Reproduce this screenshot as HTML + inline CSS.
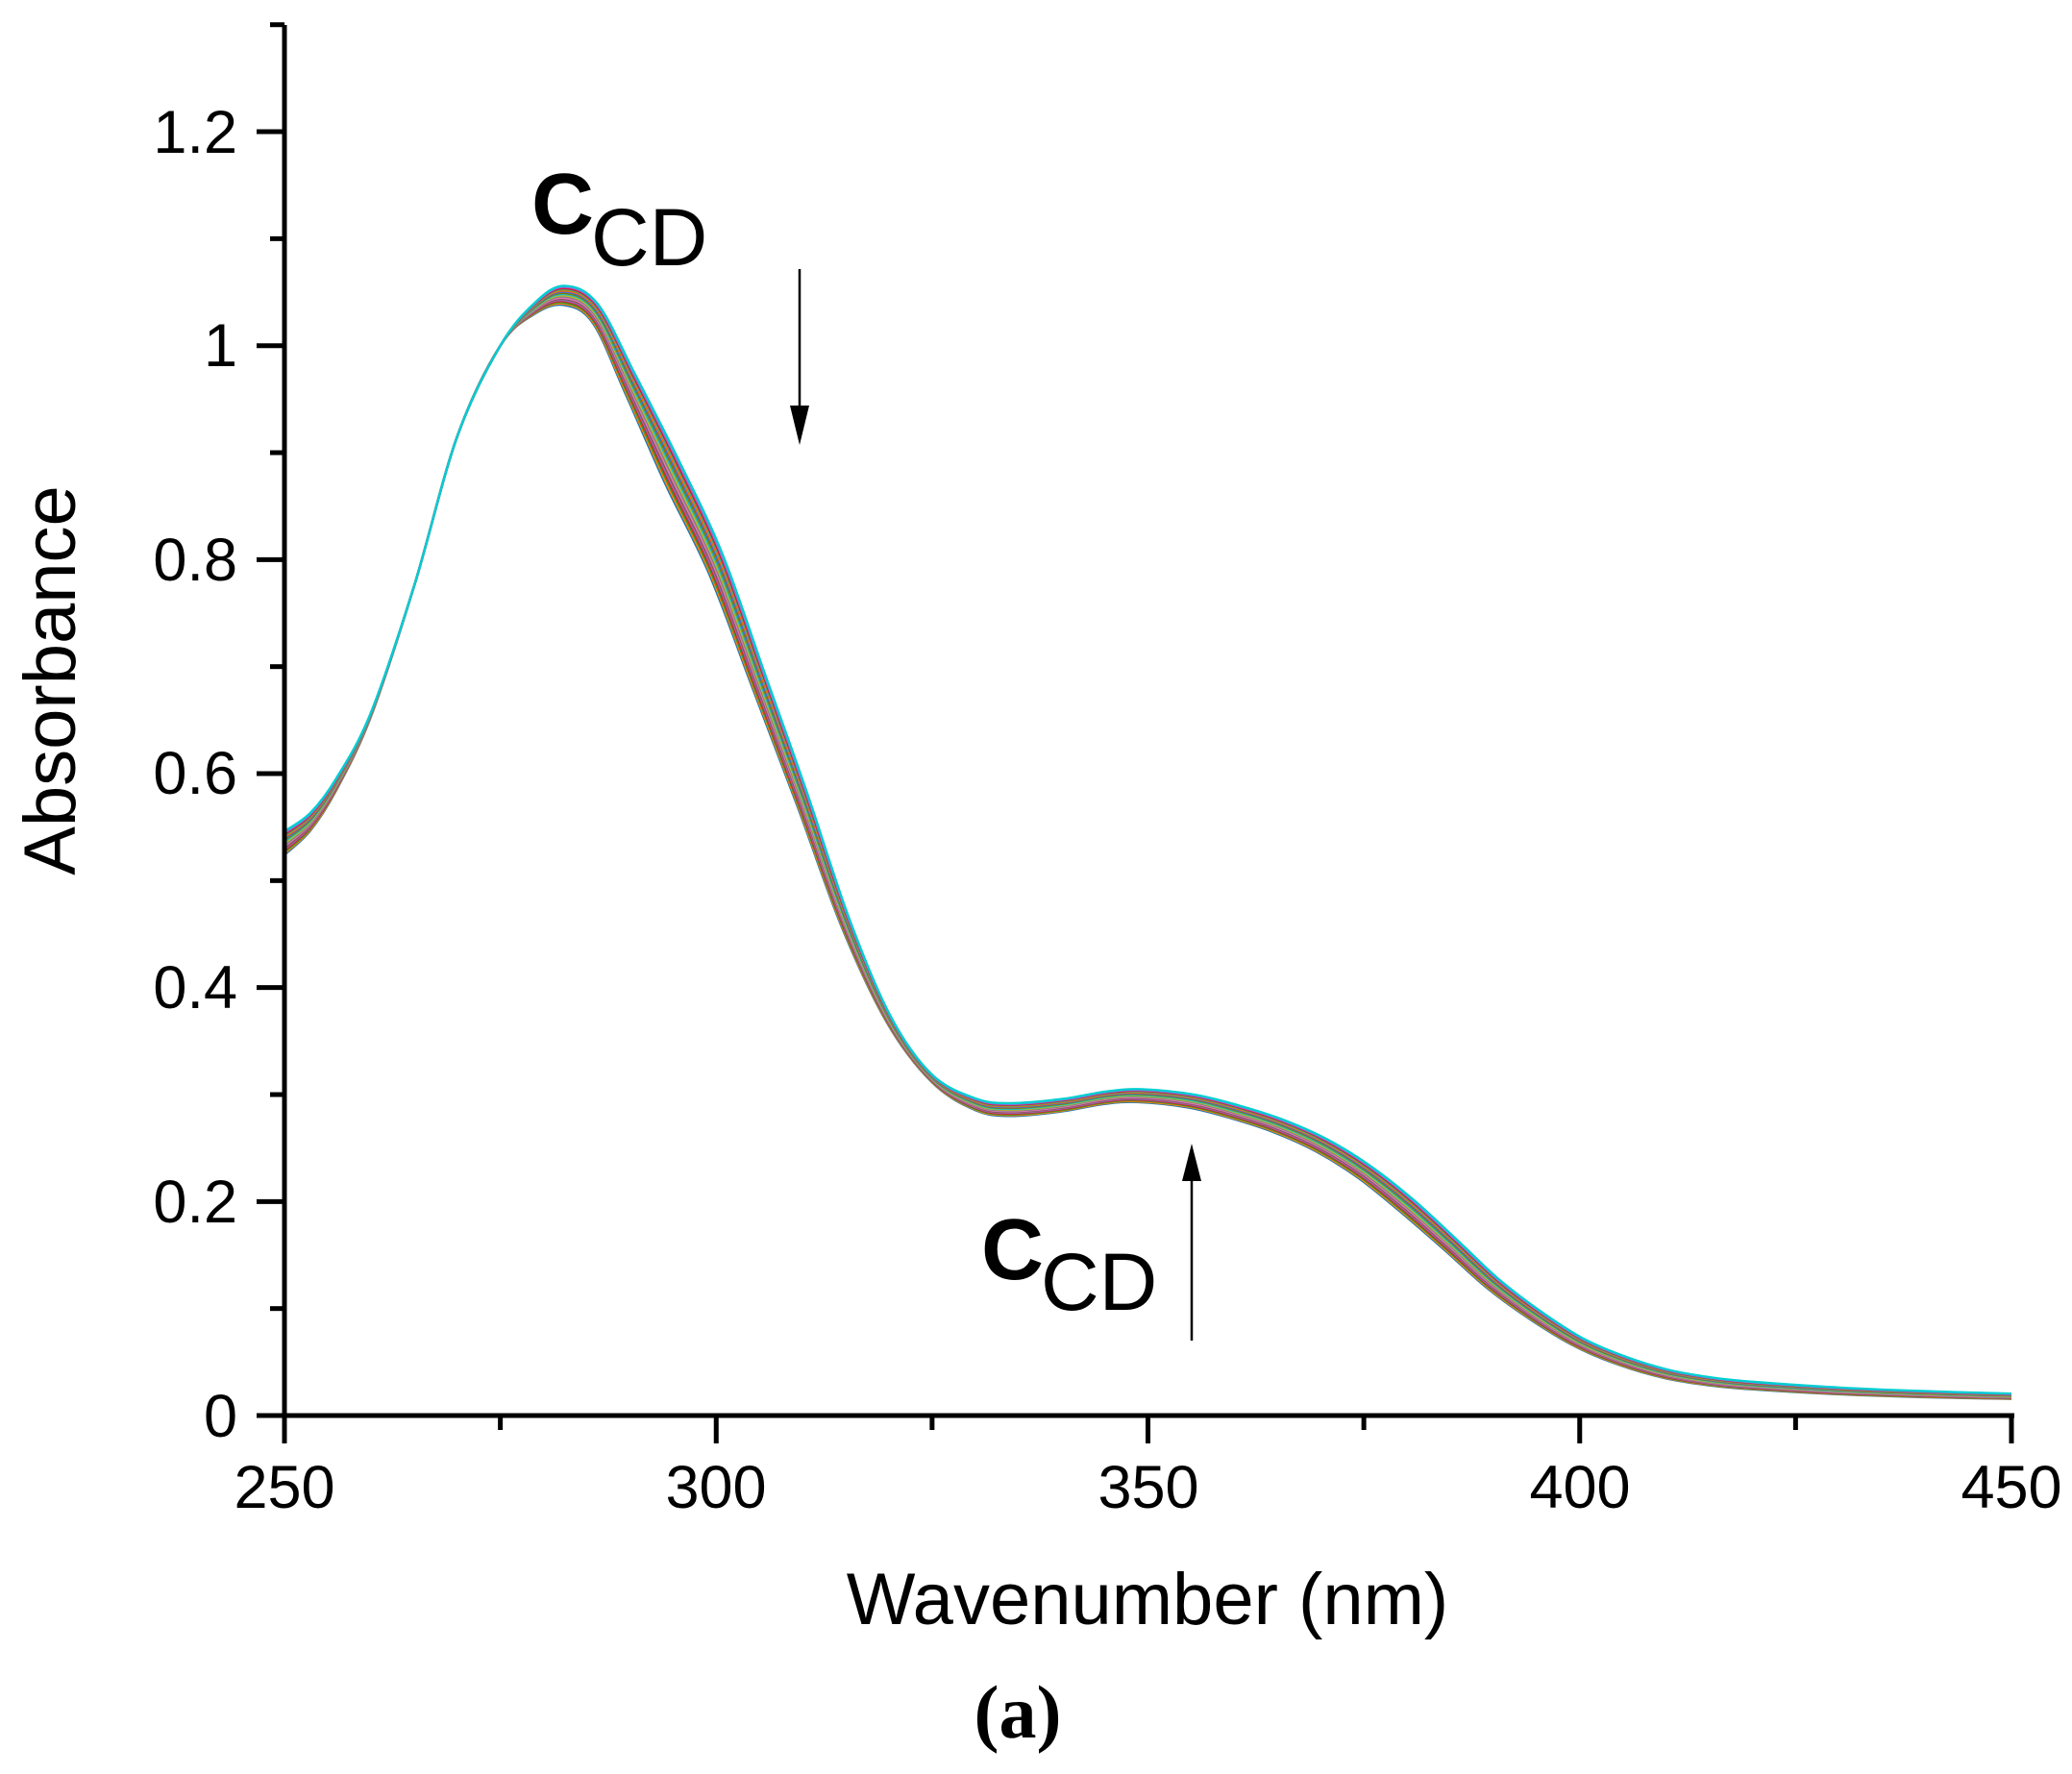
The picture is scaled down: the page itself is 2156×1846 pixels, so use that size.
<!DOCTYPE html>
<html><head><meta charset="utf-8"><style>
html,body{margin:0;padding:0;background:#fff}
svg{display:block}
text{font-family:"Liberation Sans",Arial,sans-serif;fill:#000}
</style></head><body>
<svg id="s" width="2156" height="1846" viewBox="0 0 2156 1846" xmlns="http://www.w3.org/2000/svg">
<g id="curves" fill="none" stroke-width="2.4"></g>
<g stroke="#000" stroke-width="5" fill="none">
<line x1="296" y1="26" x2="296" y2="1476"/>
<line x1="293" y1="1473" x2="2096" y2="1473"/>
</g>
<g id="ticks" stroke="#000" stroke-width="5"></g>
<g font-size="63" text-anchor="end">
<text x="247" y="1495">0</text>
<text x="247" y="1272">0.2</text>
<text x="247" y="1049">0.4</text>
<text x="247" y="826">0.6</text>
<text x="247" y="604">0.8</text>
<text x="247" y="381">1</text>
<text x="247" y="159">1.2</text>
</g>
<g font-size="63" text-anchor="middle">
<text x="296" y="1569">250</text>
<text x="745" y="1569">300</text>
<text x="1195" y="1569">350</text>
<text x="1644" y="1569">400</text>
<text x="2093" y="1569">450</text>
</g>
<text x="1194" y="1690" font-size="76" text-anchor="middle">Wavenumber (nm)</text>
<text transform="translate(78,708) rotate(-90)" font-size="76" text-anchor="middle">Absorbance</text>
<text x="1059" y="1808" font-size="78" font-weight="bold" text-anchor="middle" style="font-family:'Liberation Serif',serif">(a)</text>
<text x="553" y="243" font-size="90" font-weight="bold">C</text>
<text x="615" y="276" font-size="84">CD</text>
<text x="1021" y="1331" font-size="90" font-weight="bold">C</text>
<text x="1083" y="1363" font-size="84">CD</text>
<line x1="832" y1="280" x2="832" y2="425" stroke="#000" stroke-width="2.5"/>
<polygon points="822,422 842,422 832,463" fill="#000"/>
<line x1="1240" y1="1395" x2="1240" y2="1225" stroke="#000" stroke-width="2.5"/>
<polygon points="1230,1229 1250,1229 1240,1190" fill="#000"/>
</svg>
<script>
(function(){
var X=function(n){return 296+(n-250)*8.985;},Y=function(a){return 1473-a*1113.3;};
var t=document.getElementById('ticks'),h='';
for(var i=0;i<=13;i++){var y=Y(i*0.1);var L=(i%2==0)?29:15;h+='<line x1="'+(296-L)+'" y1="'+y+'" x2="296" y2="'+y+'"/>';}
for(var n=250;n<=450;n+=25){var x=X(n);var L=(n%50==0)?29:15;h+='<line x1="'+x+'" y1="1473" x2="'+x+'" y2="'+(1473+L)+'"/>';}
t.innerHTML=h;
var d=[[250,0.535],[253,0.555],[256,0.59],[260,0.655],[265,0.775],[270,0.915],[275,1.0],[279,1.035],[282.4,1.047],[286,1.03],[290,0.965],[295,0.88],[300,0.795],[305,0.685],[310,0.575],[315,0.46],[320,0.37],[325,0.315],[330,0.291],[334,0.286],[340,0.29],[345,0.297],[349,0.299],[355,0.294],[360,0.284],[365,0.271],[370,0.253],[375,0.228],[380,0.196],[385,0.16],[390,0.123],[395,0.093],[400,0.068],[405,0.051],[410,0.039],[415,0.032],[420,0.028],[430,0.023],[440,0.02],[450,0.018]];
var sp=[[250,0.022],[262,0.0],[275,0.0],[282,0.018],[300,0.018],[312,0.012],[322,0.005],[332,0.012],[350,0.012],[380,0.012],[400,0.008],[450,0.005]];
var sh=[[250,0],[282,0],[295,1.8],[312,1.0],[325,0],[350,0.6],[380,1.4],[400,0.8],[450,0]];
function interp(a,n){for(var i=0;i<a.length-1;i++){if(n<=a[i+1][0]){var u=(n-a[i][0])/(a[i+1][0]-a[i][0]);return a[i][1]+u*(a[i+1][1]-a[i][1]);}}return a[a.length-1][1];}
var cols=['#1f77b4','#ff7f0e','#2ca02c','#d62728','#9467bd','#8c564b','#e377c2','#7f7f7f','#bcbd22','#17becf','#808000','#4169e1','#ff6600','#3cb371','#dc143c','#9370db','#00ced1'];
var g=document.getElementById('curves'),out='';
var N=17;
for(var k=0;k<N;k++){
 var f=k/(N-1)-0.5;
 var pts=d.map(function(p){var n=p[0]+f*interp(sh,p[0]);return [X(n),Y(p[1]+f*interp(sp,p[0]))];});
 var s='M'+pts[0][0].toFixed(1)+','+pts[0][1].toFixed(1);
 for(var i=0;i<pts.length-1;i++){
  var p0=pts[i>0?i-1:i],p1=pts[i],p2=pts[i+1],p3=pts[i+2<pts.length?i+2:i+1];
  var c1x=p1[0]+(p2[0]-p0[0])/6,c1y=p1[1]+(p2[1]-p0[1])/6,c2x=p2[0]-(p3[0]-p1[0])/6,c2y=p2[1]-(p3[1]-p1[1])/6;
  s+=' C'+c1x.toFixed(1)+','+c1y.toFixed(1)+' '+c2x.toFixed(1)+','+c2y.toFixed(1)+' '+p2[0].toFixed(1)+','+p2[1].toFixed(1);
 }
 out+='<path d="'+s+'" stroke="'+cols[k%cols.length]+'"/>';
}
g.innerHTML=out;
})();
</script>
</body></html>
